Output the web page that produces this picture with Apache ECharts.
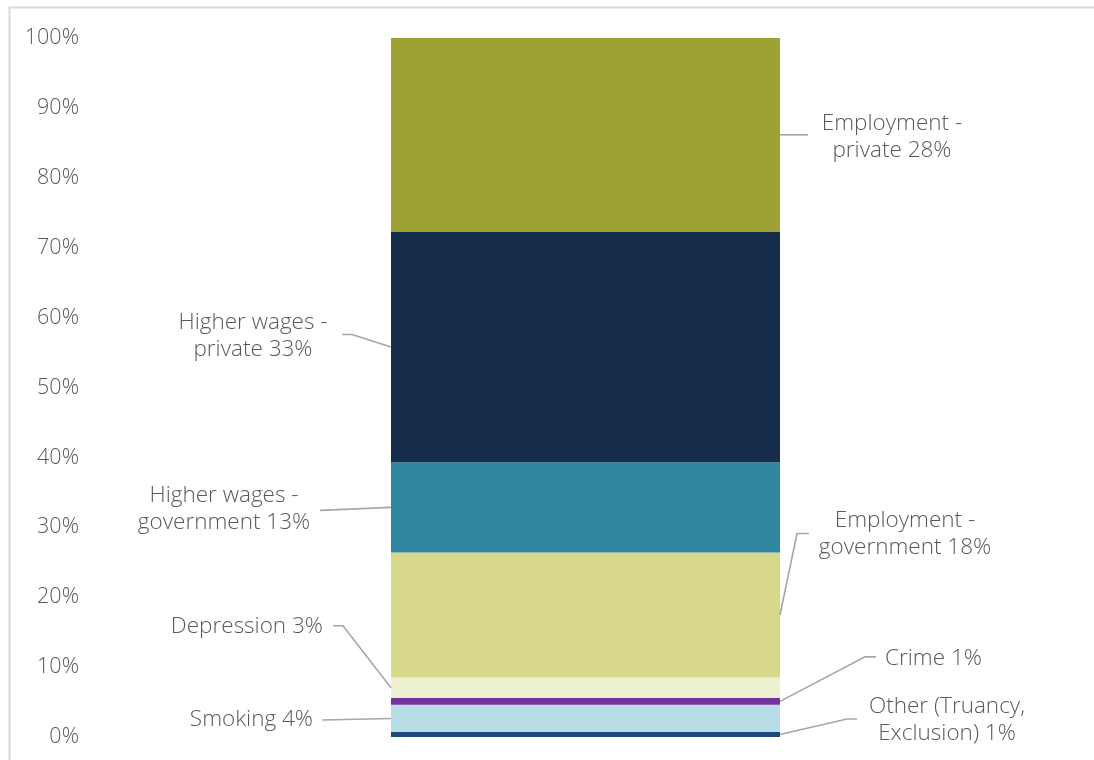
<!DOCTYPE html>
<html>
<head>
<meta charset="utf-8">
<script src="https://cdn.jsdelivr.net/npm/echarts@6/dist/echarts.min.js"></script>
<style>
html,body{margin:0;padding:0;background:#fff;}
#main{width:1094px;height:760px;}
</style>
</head>
<body>
<div id="main"></div>
<script>
// Data (bottom to top of the stacked bar)
const categories = ['Total'];
const segmentNames = [
  'Other (Truancy,\nExclusion)',
  'Smoking',
  'Crime',
  'Depression',
  'Employment -\ngovernment',
  'Higher wages -\ngovernment',
  'Higher wages -\nprivate',
  'Employment -\nprivate'
];
const segmentValues = [0.7, 3.9, 1.0, 2.9, 17.9, 12.9, 33.0, 27.7];
const segmentColors = ['#1F497D', '#B8DDE7', '#7232A0', '#EEF0D2', '#D7D88A', '#30869E', '#152C4B', '#9EA134'];
const yTicks = [0, 10, 20, 30, 40, 50, 60, 70, 80, 90, 100];

// label placement relative to bar edge / segment middle
const labelPlacement = [
  {side:'R', dx:167, dy:-14, align:'center', line:[[67,-15.5],[77,-15.5]]},
  {side:'L', dx:-78, dy:1, align:'right', line:[[-69,1.5]]},
  {side:'R', dx:105, dy:-43, align:'left', line:[[85,-44.5],[96,-44.5]]},
  {side:'L', dx:-68, dy:-61, align:'right', line:[[-48,-62],[-58,-62]]},
  {side:'R', dx:125, dy:-81, align:'center', line:[[17,-81.5],[29,-81.5]]},
  {side:'L', dx:-167, dy:2, align:'center', line:[[-71,3]]},
  {side:'L', dx:-138, dy:-11, align:'center', line:[[-39,-12.5],[-49,-12.5]]},
  {side:'R', dx:112, dy:2, align:'center', line:[[28,0]]}
];

const FONT = '"Open Sans", sans-serif';
const TEXT_COLOR = '#595959';
const BAR_WIDTH = 389;

const chart = echarts.init(document.getElementById('main'), null, {renderer:'canvas'});

const series = segmentNames.map((name, i) => {
  const p = labelPlacement[i];
  return {
    name: name,
    type: 'bar',
    stack: 'total',
    barWidth: BAR_WIDTH,
    data: [segmentValues[i]],
    itemStyle: {color: segmentColors[i]},
    label: {
      show: true,
      position: 'inside',
      formatter: () => name + ' ' + Math.round(segmentValues[i]) + '%',
      color: TEXT_COLOR,
      fontFamily: FONT,
      fontWeight: 300,
      fontSize: 22.5,
      lineHeight: 27,
      align: p.align
    },
    labelLayout: function (params) {
      const r = params.rect;
      const mid = r.y + r.height / 2;
      const edge = p.side === 'R' ? r.x + r.width : r.x;
      return {
        x: edge + p.dx,
        y: mid + p.dy,
        align: p.align,
        verticalAlign: 'middle'
      };
    }
  };
});

const option = {
  animation: false,
  backgroundColor: '#ffffff',
  grid: {left: 90, right: 13, top: 38, bottom: 23, containLabel: false},
  xAxis: {
    type: 'category',
    data: categories,
    axisLine: {show: false},
    axisTick: {show: false},
    axisLabel: {show: false},
    splitLine: {show: false}
  },
  yAxis: {
    type: 'value',
    min: yTicks[0],
    max: yTicks[yTicks.length - 1],
    interval: 10,
    axisLine: {show: false},
    axisTick: {show: false},
    splitLine: {show: false},
    axisLabel: {
      formatter: '{value}%',
      color: TEXT_COLOR,
      fontFamily: FONT,
      fontWeight: 300,
      fontSize: 21.5,
      margin: 11
    }
  },
  series: series
};

chart.setOption(option);

// leader lines computed from the axes' scales
const centerX = chart.convertToPixel({xAxisIndex: 0}, categories[0]);
const leftX = centerX - BAR_WIDTH / 2;
const rightX = centerX + BAR_WIDTH / 2;
let base = 0;
const graphics = [{
  type: 'rect',
  silent: true,
  z: -1,
  shape: {x: 9.5, y: 7.5, width: 1200, height: 800},
  style: {fill: 'none', stroke: '#D9D9D9', lineWidth: 2}
}];
segmentValues.forEach((v, i) => {
  const midVal = base + v / 2;
  base += v;
  const midY = chart.convertToPixel({yAxisIndex: 0}, midVal);
  const p = labelPlacement[i];
  const edge = p.side === 'R' ? rightX : leftX;
  const pts = [[edge, midY]].concat(p.line.map(q => [edge + q[0], midY + q[1]]));
  graphics.push({
    type: 'polyline',
    silent: true,
    z: 10,
    shape: {points: pts},
    style: {stroke: '#A6A6A6', lineWidth: 1.6, fill: 'none'}
  });
});
chart.setOption({graphic: graphics});
</script>
</body>
</html>
